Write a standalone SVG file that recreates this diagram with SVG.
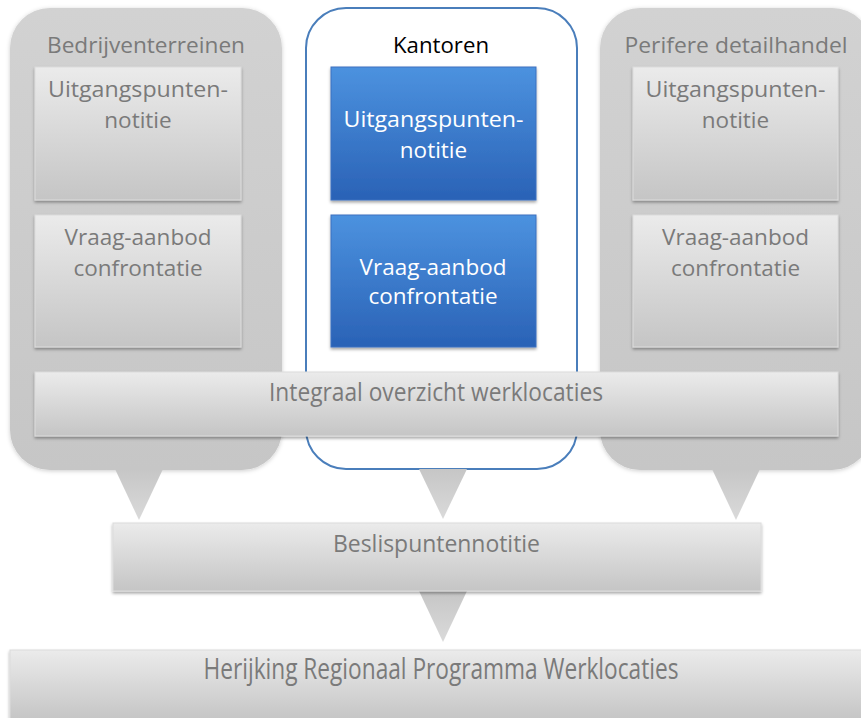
<svg xmlns="http://www.w3.org/2000/svg" width="861" height="718" viewBox="0 0 861 718">
<defs>
<linearGradient id="gBox" x1="0" y1="0" x2="0" y2="1">
<stop offset="0" stop-color="#ebebeb"/>
<stop offset="1" stop-color="#c5c5c5"/>
</linearGradient>
<linearGradient id="gBlue" x1="0" y1="0" x2="0" y2="1">
<stop offset="0" stop-color="#4c92df"/>
<stop offset="1" stop-color="#2a62b6"/>
</linearGradient>
<linearGradient id="gCont" x1="0" y1="0" x2="0" y2="1">
<stop offset="0" stop-color="#d2d2d2"/>
<stop offset="1" stop-color="#c6c6c6"/>
</linearGradient>
<linearGradient id="gTri" x1="0" y1="0" x2="0" y2="1">
<stop offset="0" stop-color="#c6c6c6"/>
<stop offset="1" stop-color="#dadada"/>
</linearGradient>
<filter id="sh" x="-5%" y="-5%" width="110%" height="120%">
<feDropShadow dx="0" dy="2" stdDeviation="1.5" flood-color="#000" flood-opacity="0.35"/>
</filter>
<filter id="shc" x="-5%" y="-5%" width="110%" height="110%">
<feDropShadow dx="0" dy="1" stdDeviation="2" flood-color="#000" flood-opacity="0.2"/>
</filter>
</defs>
<style>
.cont{fill:url(#gCont);filter:url(#shc)}
.contb{fill:#ffffff;stroke:#4a7ebb;stroke-width:2}
.box{fill:url(#gBox);stroke:#dcdcdc;stroke-width:1;filter:url(#sh)}
.blue{fill:url(#gBlue);stroke:#3c70c0;stroke-width:1;filter:url(#sh)}
.tri{fill:url(#gTri)}
text{font-family:"Open Sans","Liberation Sans",sans-serif;font-size:22.5px;text-anchor:middle}
.tg{fill:#7a7a7a}
.tk{fill:#000000}
.tw{fill:#ffffff}
</style>
<rect width="861" height="718" fill="#ffffff"/>

<g id="bedrijventerreinen">
<rect class="cont" x="10" y="8" width="272" height="462" rx="40"/>
<text class="tg" x="146" y="53" textLength="198" lengthAdjust="spacingAndGlyphs">Bedrijventerreinen</text>
</g>
<g id="kantoren">
<rect class="contb" x="306" y="8" width="271" height="461" rx="40"/>
<text class="tk" x="441" y="53" textLength="96" lengthAdjust="spacingAndGlyphs">Kantoren</text>
</g>
<g id="perifere-detailhandel">
<rect class="cont" x="600" y="8" width="272" height="462" rx="40"/>
<text class="tg" x="736" y="53" textLength="223" lengthAdjust="spacingAndGlyphs">Perifere detailhandel</text>
</g>

<g id="connectors">
<polygon class="tri" points="115,469 163,469 139,520"/>
<polygon class="tri" points="419,469 467,469 443,519"/>
<polygon class="tri" points="712,469 760,469 736,520"/>
<polygon class="tri" points="419,591 467,591 443,642"/>
</g>

<g id="bedr-uitgangspunten">
<rect class="box" x="35" y="67" width="206" height="133"/>
<text class="tg" x="138" y="97" textLength="180" lengthAdjust="spacingAndGlyphs">Uitgangspunten-</text>
<text class="tg" x="138" y="128">notitie</text>
</g>
<g id="bedr-vraag-aanbod">
<rect class="box" x="35" y="215" width="206" height="132"/>
<text class="tg" x="138" y="245">Vraag-aanbod</text>
<text class="tg" x="138" y="276">confrontatie</text>
</g>
<g id="kant-uitgangspunten">
<rect class="blue" x="331" y="67" width="205" height="133"/>
<text class="tw" x="433.5" y="127" textLength="180" lengthAdjust="spacingAndGlyphs">Uitgangspunten-</text>
<text class="tw" x="433.5" y="158">notitie</text>
</g>
<g id="kant-vraag-aanbod">
<rect class="blue" x="331" y="215" width="205" height="132"/>
<text class="tw" x="433" y="275">Vraag-aanbod</text>
<text class="tw" x="433" y="304">confrontatie</text>
</g>
<g id="peri-uitgangspunten">
<rect class="box" x="633" y="67" width="205" height="133"/>
<text class="tg" x="735.5" y="97" textLength="180" lengthAdjust="spacingAndGlyphs">Uitgangspunten-</text>
<text class="tg" x="735.5" y="128">notitie</text>
</g>
<g id="peri-vraag-aanbod">
<rect class="box" x="633" y="215" width="205" height="132"/>
<text class="tg" x="735.5" y="245">Vraag-aanbod</text>
<text class="tg" x="735.5" y="276">confrontatie</text>
</g>

<g id="integraal-overzicht">
<rect class="box" x="35" y="372" width="803" height="64"/>
<text class="tg" x="436" y="401" textLength="334" lengthAdjust="spacingAndGlyphs" style="font-size:25px">Integraal overzicht werklocaties</text>
</g>
<g id="beslispuntennotitie">
<rect class="box" x="113" y="523" width="648" height="68"/>
<text class="tg" x="436.5" y="552" textLength="207" lengthAdjust="spacingAndGlyphs" style="font-size:23px">Beslispuntennotitie</text>
</g>
<g id="herijking">
<rect class="box" x="10" y="650" width="862" height="70"/>
<text class="tg" x="441" y="679" textLength="475" lengthAdjust="spacingAndGlyphs" style="font-size:30px">Herijking Regionaal Programma Werklocaties</text>
</g>
</svg>
